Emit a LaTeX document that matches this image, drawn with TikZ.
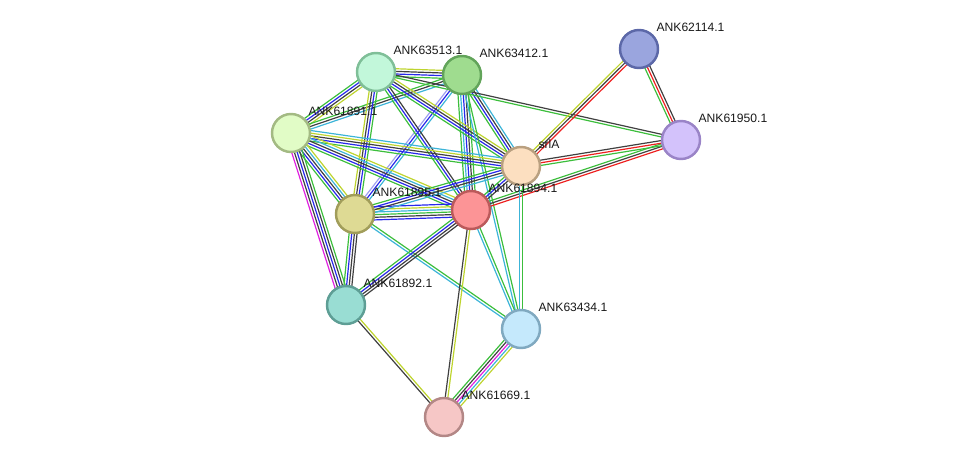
\documentclass[tikz,border=0pt]{standalone}
\usepackage{fontspec}
\setmainfont{Liberation Sans}
\usetikzlibrary{calc,backgrounds}
\definecolor{sgreen}{RGB}{60,190,60}
\definecolor{sblue}{RGB}{40,40,235}
\definecolor{sblack}{RGB}{64,64,64}
\definecolor{scyan}{RGB}{60,180,216}
\definecolor{syellow}{RGB}{190,212,46}
\definecolor{sred}{RGB}{238,32,32}
\definecolor{smagenta}{RGB}{224,32,224}
\definecolor{slav}{RGB}{160,160,240}
\tikzset{
  prot/.style={circle, minimum size=0.76cm, inner sep=0pt, line width=1.4pt,
    label={[lbl]above right:#1}},
  lbl/.style={inner sep=0.6pt, label distance=1.5pt, font=\fontsize{6.9}{8}\selectfont, text=black!90},
  edgeline/.style={line width=0.68pt}
}
\newcommand\edge[3]{%
  \foreach \c [count=\i] in {#3} {\xdef\ncol{\i}}
  \foreach \c [count=\i] in {#3} {
    \pgfmathsetmacro\off{(\i-(\ncol+1)/2)*1.5}
    \draw[\c, edgeline] ($(#1)!\off pt!90:(#2)$) -- ($(#2)!\off pt!-90:(#1)$);
  }
}
\begin{document}
\begin{tikzpicture}[x=0.02cm, y=-0.02cm]
	\useasboundingbox (0, 0) rectangle (976, 463);
	\node[prot=ANK62114.1, fill={rgb,255:red,154;green,165;blue,222}, draw={rgb,255:red,92;green,104;blue,168}] (n62114) at (639, 49) {};
	\node[prot=ANK63513.1, fill={rgb,255:red,194;green,247;blue,218}, draw={rgb,255:red,127;green,191;blue,152}] (n63513) at (376, 72) {};
	\node[prot=ANK63412.1, fill={rgb,255:red,159;green,220;blue,143}, draw={rgb,255:red,98;green,164;blue,90}] (n63412) at (462, 75) {};
	\node[prot=ANK61891.1, fill={rgb,255:red,225;green,252;blue,198}, draw={rgb,255:red,163;green,186;blue,131}] (n61891) at (291, 133) {};
	\node[prot=ANK61950.1, fill={rgb,255:red,211;green,194;blue,251}, draw={rgb,255:red,154;green,132;blue,199}] (n61950) at (681, 140) {};
	\node[prot=srlA, fill={rgb,255:red,252;green,223;blue,192}, draw={rgb,255:red,185;green,160;blue,128}] (srlA) at (521, 166) {};
	\node[prot=ANK61894.1, fill={rgb,255:red,252;green,148;blue,150}, draw={rgb,255:red,187;green,90;blue,91}] (n61894) at (471, 210) {};
	\node[prot=ANK61895.1, fill={rgb,255:red,222;green,218;blue,148}, draw={rgb,255:red,161;green,157;blue,90}] (n61895) at (355, 214) {};
	\node[prot=ANK61892.1, fill={rgb,255:red,153;green,221;blue,211}, draw={rgb,255:red,94;green,158;blue,149}] (n61892) at (346, 305) {};
	\node[prot=ANK63434.1, fill={rgb,255:red,197;green,233;blue,252}, draw={rgb,255:red,128;green,169;blue,192}] (n63434) at (521, 329) {};
	\node[prot=ANK61669.1, fill={rgb,255:red,246;green,199;blue,198}, draw={rgb,255:red,179;green,135;blue,134}] (n61669) at (444, 417) {};
	\begin{pgfonlayer}{background}
	\edge{n63513}{n63412}{sgreen,sblue,sblack,syellow}
	\edge{n63513}{n61891}{sgreen,sblue,sblack,syellow}
	\edge{n63412}{n61891}{sgreen,sblack,scyan}
	\edge{n63513}{n61895}{syellow,sblack,sblue,sgreen}
	\edge{n63412}{n61895}{slav,sblue,scyan}
	\edge{n63513}{n61894}{sgreen,sblue,sblack}
	\edge{n63412}{n61894}{sgreen,scyan,sblue,sblack,sgreen}
	\edge{n63513}{srlA}{sgreen,sblue,sblack,syellow}
	\edge{n63412}{srlA}{sgreen,sblue,sblack,scyan}
	\edge{n63513}{n61950}{sgreen,sblack}
	\edge{n63412}{n63434}{scyan,sgreen}
	\edge{n61891}{srlA}{sgreen,sblue,sblack,syellow,scyan}
	\edge{n61891}{n61894}{sgreen,sblue,sblack,scyan,syellow}
	\edge{n61891}{n61895}{sgreen,sblue,sblack,scyan,syellow}
	\edge{n61891}{n61892}{smagenta,sblack,sblue,sblack,sgreen}
	\edge{n61895}{n61894}{sblue,sblack,sgreen,scyan,syellow,sblue}
	\edge{n61895}{srlA}{scyan,sblack,sblue,sgreen}
	\edge{n61895}{n61892}{sgreen,sblue,sblack,sblack}
	\edge{n61895}{n63434}{scyan,sgreen}
	\edge{n61894}{srlA}{sblack,sblue,sgreen}
	\edge{n61894}{n61892}{sgreen,sblue,sblack,sblack}
	\edge{n61894}{n61669}{sblack,syellow}
	\edge{n61894}{n63434}{scyan,sgreen}
	\edge{n61894}{n61950}{sred,sblack,sgreen}
	\edge{srlA}{n61950}{sgreen,sred,sblack}
	\edge{srlA}{n62114}{sred,sblack,syellow}
	\edge{n62114}{n61950}{sgreen,sred,sblack}
	\edge{srlA}{n63434}{scyan,sgreen}
	\edge{n61892}{n61669}{sblack,syellow}
	\edge{n63434}{n61669}{sgreen,sblack,smagenta,scyan,syellow}
	\end{pgfonlayer}
\end{tikzpicture}
\end{document}
